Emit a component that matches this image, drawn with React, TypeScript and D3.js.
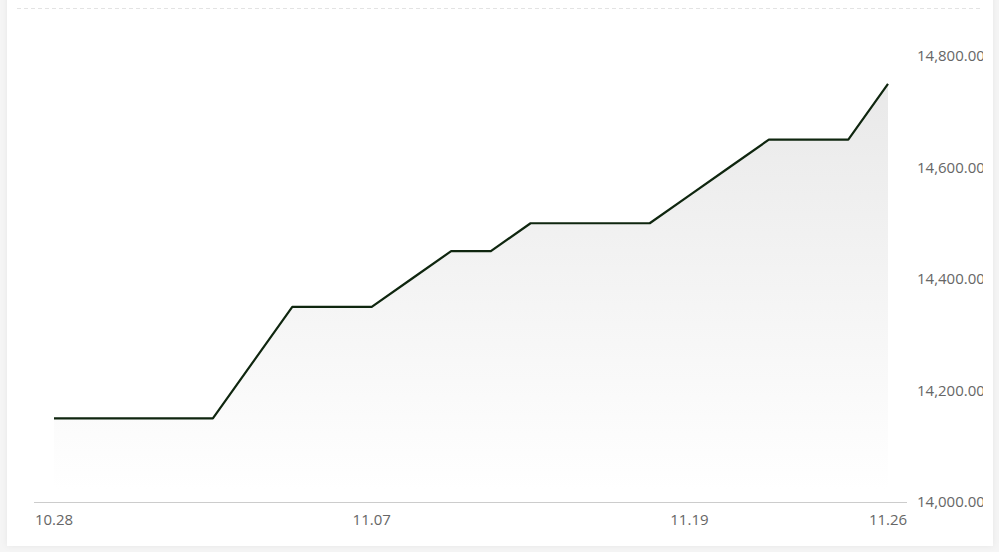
import React, { useEffect, useRef } from "react";
import * as d3 from "d3";

const dates = [
  "10.28", "10.29", "10.30", "10.31", "11.01", "11.04", "11.05", "11.06",
  "11.07", "11.08", "11.11", "11.12", "11.13", "11.14", "11.15", "11.18",
  "11.19", "11.20", "11.21", "11.22", "11.25", "11.26",
];
const prices = [
  14150, 14150, 14150, 14150, 14150, 14250, 14350, 14350,
  14350, 14400, 14450, 14450, 14500, 14500, 14500, 14500,
  14550, 14600, 14650, 14650, 14650, 14750,
];
const shownDates = ["10.28", "11.07", "11.19", "11.26"];
const yTicks = [14000, 14200, 14400, 14600, 14800];

export default function App() {
  const ref = useRef<SVGSVGElement>(null);

  useEffect(() => {
    const W = 999;
    const H = 552;
    const svg = d3.select(ref.current).attr("width", W).attr("height", H);
    svg.selectAll("*").remove();

    const defs = svg.append("defs");
    const shadow = defs.append("filter").attr("id", "card-shadow")
      .attr("x", "-5%").attr("y", "-5%").attr("width", "110%").attr("height", "110%");
    shadow.append("feDropShadow").attr("dx", 0).attr("dy", 0)
      .attr("stdDeviation", 3).attr("flood-color", "#000").attr("flood-opacity", 0.06);
    defs.append("clipPath").attr("id", "card-clip")
      .append("rect").attr("x", 7).attr("y", -20).attr("width", 976).attr("height", 566);
    const grad = defs.append("linearGradient").attr("id", "area-grad")
      .attr("gradientUnits", "userSpaceOnUse")
      .attr("x1", 0).attr("x2", 0).attr("y1", 86).attr("y2", 490);
    grad.append("stop").attr("offset", "0%").attr("stop-color", "#e9e9e9");
    grad.append("stop").attr("offset", "100%").attr("stop-color", "#ffffff");

    // 背景
    svg.append("rect").attr("width", W).attr("height", H).attr("fill", "#f5f5f5");
    svg.append("rect")
      .attr("x", 7).attr("y", -20).attr("width", 986).attr("height", 566)
      .attr("fill", "#fff").attr("filter", "url(#card-shadow)");

    const g = svg.append("g").attr("clip-path", "url(#card-clip)");

    const x = d3.scalePoint<string>().domain(dates).range([54, 888]);
    const y = d3.scaleLinear().domain([14000, 14800]).range([502, 56]);

    // 顶部虚线
    g.append("line")
      .attr("x1", 17).attr("x2", 993).attr("y1", 8.5).attr("y2", 8.5)
      .attr("stroke", "#e3e3e3").attr("stroke-dasharray", "4,3");

    // 面积
    const area = d3.area<number>()
      .x((_, i) => x(dates[i]) as number)
      .y0(y(14000))
      .y1((d) => y(d));
    g.append("path").attr("d", area(prices)).attr("fill", "url(#area-grad)");

    // x轴
    g.append("line")
      .attr("x1", 34).attr("x2", 907).attr("y1", 502.5).attr("y2", 502.5)
      .attr("stroke", "#cccccc");
    g.selectAll(".xl").data(shownDates).enter().append("text")
      .attr("x", (d) => x(d) as number)
      .attr("y", 525)
      .attr("text-anchor", "middle")
      .attr("font-family", "'Open Sans', 'Noto Sans', sans-serif")
      .attr("font-size", 15)
      .attr("fill", "#666")
      .text((d) => d);

    // y轴标签
    const fmt = d3.format(",.2f");
    g.selectAll(".yl").data(yTicks).enter().append("text")
      .attr("x", 917)
      .attr("y", (d) => y(d))
      .attr("dy", "0.35em")
      .attr("font-family", "'Open Sans', 'Noto Sans', sans-serif")
      .attr("font-size", 15)
      .attr("fill", "#666")
      .text((d) => fmt(d));

    // 折线
    const line = d3.line<number>()
      .x((_, i) => x(dates[i]) as number)
      .y((d) => y(d));
    g.append("path")
      .attr("d", line(prices))
      .attr("fill", "none")
      .attr("stroke", "#0f260f")
      .attr("stroke-width", 2.2)
      .attr("stroke-linejoin", "round");
  }, []);

  return (
    <div style={{ position: "fixed", left: 0, top: 0 }}>
      <svg ref={ref} style={{ display: "block" }} />
    </div>
  );
}
